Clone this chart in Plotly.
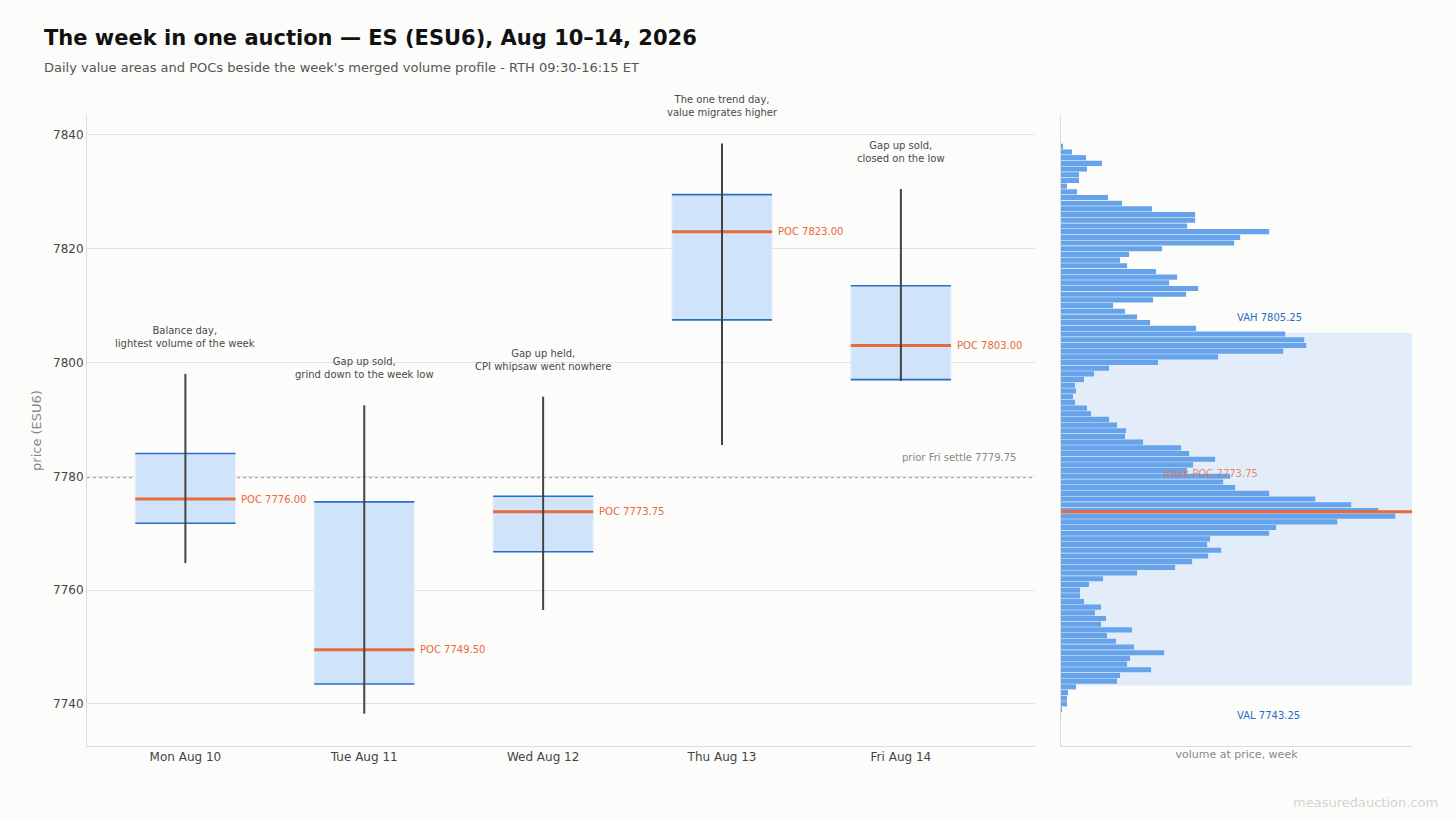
import plotly.graph_objects as go

# daily RTH value areas (ESU6), week of Aug 10-14 2026
days = ['Mon Aug 10', 'Tue Aug 11', 'Wed Aug 12', 'Thu Aug 13', 'Fri Aug 14']
day_high = [7798.00, 7792.50, 7794.00, 7838.50, 7830.50]
day_low = [7764.75, 7738.25, 7756.50, 7785.50, 7796.75]
day_vah = [7784.00, 7775.50, 7776.50, 7829.50, 7813.50]
day_val = [7771.75, 7743.50, 7766.75, 7807.50, 7797.00]
day_poc = [7776.00, 7749.50, 7773.75, 7823.00, 7803.00]
day_notes = [
    'Balance day,<br>lightest volume of the week',
    'Gap up sold,<br>grind down to the week low',
    'Gap up held,<br>CPI whipsaw went nowhere',
    'The one trend day,<br>value migrates higher',
    'Gap up sold,<br>closed on the low',
]
prior_settle = 7779.75

# merged week profile, 1pt rows from the top down
profile_price = list(range(7838, 7738, -1))
profile_vol = [
    20, 110, 250, 410, 260, 180, 180, 60, 160, 470,
    610, 910, 1340, 1340, 1260, 2080, 1790, 1730, 1010, 680,
    590, 660, 950, 1160, 1080, 1370, 1250, 920, 520, 640,
    760, 890, 1350, 2240, 2430, 2450, 2220, 1570, 970, 480,
    330, 230, 140, 150, 120, 140, 260, 300, 480, 560,
    650, 640, 820, 1200, 1280, 1540, 1320, 1260, 1690, 1620,
    1740, 2080, 2540, 2900, 3170, 3340, 2760, 2150, 2080, 1490,
    1460, 1600, 1470, 1310, 1140, 760, 420, 280, 190, 190,
    230, 400, 340, 450, 400, 710, 460, 550, 730, 1030,
    690, 660, 900, 590, 560, 150, 70, 60, 60, 10,
]
week_vah = 7805.25
week_val = 7743.25
week_poc = 7773.75

font = 'DejaVu Sans'
bg = '#fcfcfa'
orange = '#e8693a'
blue = '#2b6cc4'
half = 0.28  #half width of a day box in category units

xs = list(range(len(days)))

def segments(levels):
    #horizontal segments across each day box, None separated
    sx, sy = [], []
    for i, lv in zip(xs, levels):
        sx += [i - half, i + half, None]
        sy += [lv, lv, None]
    return sx, sy

fig = go.Figure()

#value area boxes
fig.add_trace(go.Bar(
    x=xs, y=[h - l for h, l in zip(day_vah, day_val)], base=day_val,
    width=2 * half, marker=dict(color='#cfe3fa', line=dict(color='#e8f1fc', width=1)),
    xaxis='x', yaxis='y', hoverinfo='skip'))

for levels in (day_vah, day_val):
    sx, sy = segments(levels)
    fig.add_trace(go.Scatter(x=sx, y=sy, mode='lines', line=dict(color=blue, width=1.6),
                             xaxis='x', yaxis='y', hoverinfo='skip'))
sx, sy = segments(day_poc)
fig.add_trace(go.Scatter(x=sx, y=sy, mode='lines', line=dict(color=orange, width=3),
                         xaxis='x', yaxis='y', hoverinfo='skip'))

#high-low wicks
wx, wy = [], []
for i, h, l in zip(xs, day_high, day_low):
    wx += [i, i, None]
    wy += [l, h, None]
fig.add_trace(go.Scatter(x=wx, y=wy, mode='lines', line=dict(color='#444444', width=2),
                         xaxis='x', yaxis='y', hoverinfo='skip'))

#week profile
fig.add_trace(go.Bar(
    x=profile_vol, y=profile_price, orientation='h', width=0.9,
    marker=dict(color='#67a3ea', line=dict(width=0)),
    xaxis='x2', yaxis='y2', hoverinfo='skip'))

annotations = []
for i, h, note in zip(xs, day_high, day_notes):
    annotations.append(go.layout.Annotation(
        x=i, y=h, xref='x', yref='y', text=note, showarrow=False,
        yanchor='bottom', yshift=23, font=dict(size=10, color='#4a4a4a')))
for i, p in zip(xs, day_poc):
    annotations.append(go.layout.Annotation(
        x=i + half, y=p, xref='x', yref='y', text=f'POC {p:.2f}', showarrow=False,
        xanchor='left', xshift=4, font=dict(size=10, color=orange)))

annotations += [
    go.layout.Annotation(
        x=1, y=prior_settle, xref='x domain', yref='y', text=f'prior Fri settle {prior_settle:.2f}',
        showarrow=False, xanchor='right', xshift=-17, yanchor='bottom', yshift=13,
        font=dict(size=10, color='#888888')),
    go.layout.Annotation(
        x=0.495, y=week_vah, xref='x2 domain', yref='y2', text=f'VAH {week_vah:.2f}',
        showarrow=False, xanchor='left', yshift=15, font=dict(size=10, color=blue)),
    go.layout.Annotation(
        x=0.495, y=week_val, xref='x2 domain', yref='y2', text=f'VAL {week_val:.2f}',
        showarrow=False, xanchor='left', yshift=-30, font=dict(size=10, color=blue)),
    go.layout.Annotation(
        x=0.285, y=week_poc, xref='x2 domain', yref='y2', text=f'week POC {week_poc:.2f}',
        showarrow=False, xanchor='left', yshift=38, opacity=0.75,
        font=dict(size=10, color=orange)),
    #subtitle + watermark
    go.layout.Annotation(
        x=-0.0343, y=1.0745, xref='paper', yref='paper', showarrow=False,
        xanchor='left', yanchor='middle',
        text="Daily value areas and POCs beside the week's merged volume profile - RTH 09:30-16:15 ET",
        font=dict(size=13, color='#555555')),
    go.layout.Annotation(
        x=1.0211, y=-0.0903, xref='paper', yref='paper', showarrow=False,
        xanchor='right', yanchor='middle', text='measuredauction.com',
        font=dict(size=13, color='#d4d4d0')),
]

shapes = [
    #week value area behind the profile
    dict(type='rect', xref='x2 domain', yref='y2', x0=0, x1=1, y0=week_val, y1=week_vah,
         fillcolor='#e3edf9', line=dict(width=0), layer='below'),
    dict(type='line', xref='x2 domain', yref='y2', x0=0, x1=1, y0=week_poc, y1=week_poc,
         line=dict(color=orange, width=3)),
    dict(type='line', xref='x domain', yref='y', x0=0, x1=1, y0=prior_settle, y1=prior_settle,
         line=dict(color='#999999', width=1, dash='dot'), layer='below'),
]

axis_line = '#dddcd6'
fig.update_layout(
    width=1456, height=820,
    margin=dict(l=87, r=44, t=115, b=74),
    paper_bgcolor=bg, plot_bgcolor=bg,
    font=dict(family=font, size=12, color='#444444'),
    showlegend=False, barmode='overlay',
    title=dict(text='<b>The week in one auction \u2014 ES (ESU6), Aug 10\u201314, 2026</b>',
               x=44 / 1456, xanchor='left', xref='container',
               y=1 - 38 / 820, yanchor='middle', yref='container',
               font=dict(size=21, color='#111111')),
    xaxis=dict(domain=[0, 0.7155], range=[-0.55, 4.75], tickvals=xs, ticktext=days,
               showgrid=False, zeroline=False, showline=True, linecolor=axis_line,
               tickfont=dict(size=12, color='#444444')),
    yaxis=dict(range=[7732.6, 7843.5], dtick=20, showgrid=True, gridcolor='#e2e2e0',
               zeroline=False, showline=True, linecolor=axis_line,
               title=dict(text='price (ESU6)', standoff=8,
                          font=dict(size=13, color='#888888'))),
    xaxis2=dict(domain=[0.7351, 1.0], range=[0, 1.05 * max(profile_vol)], anchor='y2',
                showgrid=False, zeroline=False, showticklabels=False, showline=True,
                linecolor=axis_line,
                title=dict(text='volume at price, week', standoff=4,
                           font=dict(size=11, color='#888888'))),
    yaxis2=dict(anchor='x2', matches='y', showgrid=False, zeroline=False,
                showticklabels=False, showline=True, linecolor=axis_line),
    annotations=annotations,
    shapes=shapes,
)

#page body margin off so the 1456x820 figure sits at the window origin
fig.write_html('out.html', config={'displayModeBar': False},
               post_script="document.body.style.margin = '0';")
